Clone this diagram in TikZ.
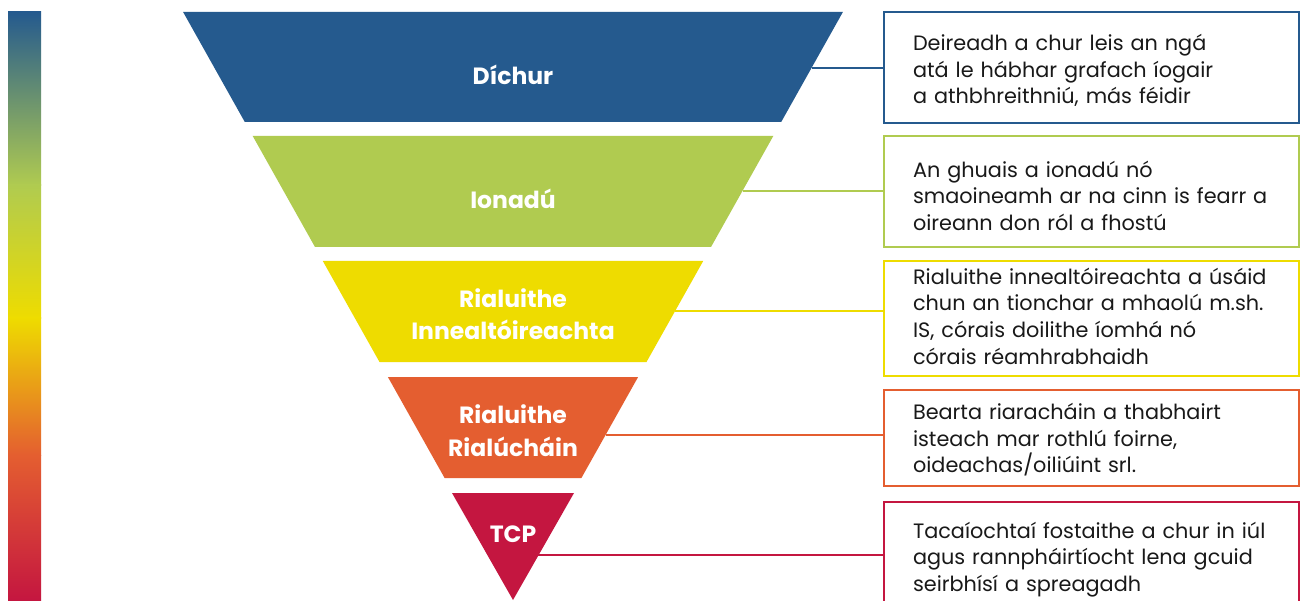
\documentclass[tikz,border=0pt]{standalone}
\usepackage{fontspec}
\setmainfont{Poppins}
\definecolor{cBlue}{RGB}{37,90,142}
\definecolor{cGreen}{RGB}{176,203,80}
\definecolor{cYellow}{RGB}{238,220,0}
\definecolor{cOrange}{RGB}{228,94,48}
\definecolor{cRed}{RGB}{196,22,64}
\definecolor{txt}{RGB}{25,25,25}
\begin{document}
\begin{tikzpicture}[x=1pt,y=-1pt,
  box/.style={draw=#1, line width=2pt, rectangle, minimum width=415pt,
    text width=357pt, inner xsep=29pt, inner ysep=0pt, align=left,
    font=\fontsize{20.8}{26.6}\selectfont, text=txt},
  lab/.style={text=white, inner sep=0pt, align=center,
    font=\bfseries\fontsize{23.5}{32.6}\selectfont},
  link/.style={draw=#1, line width=2pt}]
\useasboundingbox (0,0) rectangle (1300,601);
\clip (0,0) rectangle (1300,601);
\fill[white] (0,0) rectangle (1300,601);

% gradient bar
\shade[top color=cBlue, bottom color=cGreen] (8,12) rectangle (41,185.5);
\shade[top color=cGreen, bottom color=cYellow] (8,185) rectangle (41,318.5);
\shade[top color=cYellow, bottom color=cOrange] (8,318) rectangle (41,455.5);
\shade[top color=cOrange, bottom color=cRed] (8,455) rectangle (41,601);

% edge points of the funnel
\coordinate (e1) at (811.5,68);
\coordinate (e2) at (742.5,191);
\coordinate (e3) at (675,311);
\coordinate (e4) at (605.6,435);
\coordinate (e5) at (538.2,555);

% text boxes
\node[box=cBlue, minimum height=111pt] (b1) at (1091.5,67.5)
  {\mbox{Deireadh a chur leis an ngá}\\\mbox{atá le hábhar grafach íogair}\\\mbox{a athbhreithniú, más féidir}\vspace{-6pt}};
\node[box=cGreen, minimum height=111pt] (b2) at (1091.5,191.5)
  {\mbox{An ghuais a ionadú nó}\\\mbox{smaoineamh ar na cinn is fearr a}\\\mbox{oireann don ról a fhostú}\vspace{-8pt}};
\node[box=cYellow, minimum height=115pt] (b3) at (1091.5,318.5)
  {\mbox{Rialuithe innealtóireachta a úsáid}\\\mbox{chun an tionchar a mhaolú m.sh.}\\\mbox{IS, córais doilithe íomhá nó}\\\mbox{córais réamhrabhaidh}\vspace{5pt}};
\node[box=cOrange, minimum height=96pt] (b4) at (1091.5,438)
  {\mbox{Bearta riaracháin a thabhairt}\\\mbox{isteach mar rothlú foirne,}\\\mbox{oideachas/oiliúint srl.}\vspace{-4pt}};
\node[box=cRed, minimum height=112pt] (b5) at (1091.5,558)
  {\mbox{Tacaíochtaí fostaithe a chur in iúl}\\\mbox{agus rannpháirtíocht lena gcuid}\\\mbox{seirbhísí a spreagadh}\vspace{-3pt}};

% connectors
\draw[link=cBlue] (e1) -- (e1 -| b1.west);
\draw[link=cGreen] (e2) -- (e2 -| b2.west);
\draw[link=cYellow] (e3) -- (e3 -| b3.west);
\draw[link=cOrange] (e4) -- (e4 -| b4.west);
\draw[link=cRed] (e5) -- (e5 -| b5.west);

% funnel bands
\fill[cBlue] (183.1,12) -- (842.9,12) -- (781.2,122) -- (244.8,122) -- cycle;
\fill[cGreen] (252.7,136) -- (773.3,136) -- (711.0,247) -- (315.0,247) -- cycle;
\fill[cYellow] (322.8,261) -- (703.2,261) -- (646.5,362) -- (379.5,362) -- cycle;
\fill[cOrange] (387.9,377) -- (638.1,377) -- (581.4,478) -- (444.6,478) -- cycle;
\fill[cRed] (452,493) -- (574,493) -- (513,600) -- cycle;

% labels
\node[lab, anchor=base] (l1) at (513,85) {Díchur};
\node[lab, anchor=base] (l2) at (513,209) {Ionadú};
\node[lab] (l3) at (513,314) {Rialuithe\\Innealtóireachta};
\node[lab] (l4) at (513,430.5) {Rialuithe\\Rialúcháin};
\node[lab, anchor=base] (l5) at (513,542.7) {TCP};
\end{tikzpicture}
\end{document}
